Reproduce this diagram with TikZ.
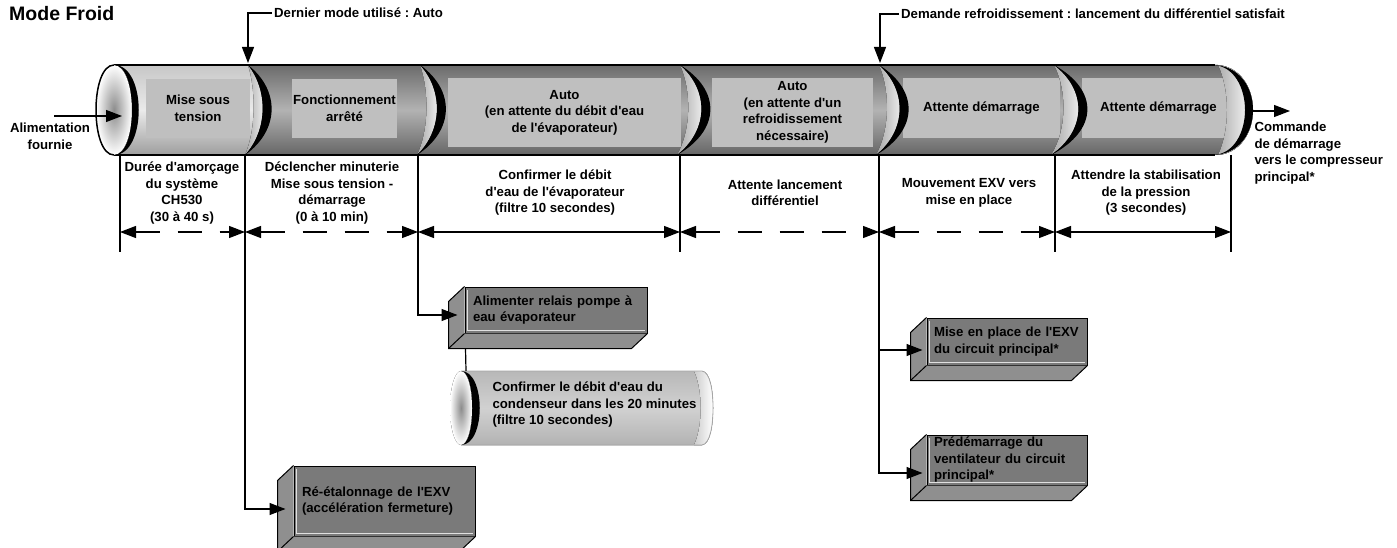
\documentclass[tikz,border=0pt]{standalone}
\usepackage{fontspec}
\setmainfont{Liberation Sans}[Ligatures=TeXOff]
\usetikzlibrary{arrows.meta, calc}
\frenchspacing

\begin{document}
\begin{tikzpicture}[
  x=1pt, y=-1pt,
  >={Triangle[length=16pt,width=12pt]},
  every node/.style={font=\fontsize{13.2}{16.5}\selectfont\bfseries},
  stage/.style={fill=black!25, inner sep=0pt, align=center},
  spanlabel/.style={align=center},
  taskbox/.style={draw, line width=1pt, fill=black!52, inner xsep=8pt, inner ysep=0pt, align=left},
  guide/.style={line width=1.2pt},
  feed/.style={->, line width=1.2pt},
  dimarrow/.style={<->, line width=1.2pt},
  broken/.style={dash pattern=on 24pt off 18pt},
  shine/.style={left color=black!35, right color=white}
]
\useasboundingbox (0,0) rectangle (1397,548);

% Title
\node[anchor=base west, inner sep=0pt, font=\fontsize{19.5}{22}\selectfont\bfseries] (title) at (9,20.5) {Mode Froid};

% Tube body
\fill[top color=black!58, bottom color=black!60, middle color=black!30]
  (114,65) -- (1215,65) .. controls (1240,65) and (1253,88) .. (1253,110)
  .. controls (1253,132) and (1240,155) .. (1215,155) -- (114,155) -- cycle;
\fill[top color=black!22, bottom color=black!38, middle color=black!8]
  (114,65) -- (248,65) .. controls (268,90) and (268,130) .. (245,155) -- (114,155) -- cycle;

% Phases inside the tube
\node[stage, minimum width=104pt, minimum height=59pt] (s1) at (198,108.5) {Mise sous\\tension};
\node[stage, minimum width=105pt, minimum height=59pt] (s2) at (344.5,108.5) {Fonctionnement\\arrêté};
\node[stage, minimum width=233pt, minimum height=69pt] (s3) at (564.5,112.5) {Auto\\(en attente du débit d'eau\\de l'évaporateur)};
\node[stage, minimum width=161pt, minimum height=69pt] (s4) at (792.5,112.5) {Auto\\(en attente d'un\\refroidissement\\nécessaire)};
\node[stage, minimum width=157pt, minimum height=60pt] (s5) at (981.5,108) {Attente démarrage};
\node[stage, minimum width=153pt, minimum height=60pt] (s6) at (1158.5,108) {Attente démarrage};

% Segment joints
\foreach \bx/\k in {248/20, 420/23, 680/29, 879/28, 1054/33} {
  \fill[shine] (\bx,65) .. controls (\bx+0.4*\k,90) and (\bx+0.4*\k,130) .. (\bx-3,155)
    .. controls (\bx+\k,130) and (\bx+\k,90) .. (\bx,65);
  \fill (\bx,65) .. controls (\bx+\k,90) and (\bx+\k,130) .. (\bx-3,155)
    .. controls (\bx+\k+12,130) and (\bx+\k+12,90) .. (\bx,65);
}

% Right end of the tube
\fill[shine] (1218,65) .. controls (1230,90) and (1230,130) .. (1218,155) -- (1215,155)
  .. controls (1240,155) and (1253,132) .. (1253,110) .. controls (1253,88) and (1240,65) .. (1215,65) -- cycle;
\fill (1212,65) .. controls (1240,65) and (1253,88) .. (1253,110)
  .. controls (1253,132) and (1240,155) .. (1212,155)
  .. controls (1234,155) and (1245,132) .. (1245,110)
  .. controls (1245,88) and (1234,65) .. (1212,65);
\draw[line width=2.2pt] (114,65) -- (1215,65) (114,155) -- (1215,155);

% Left face
\fill[inner color=black!45, outer color=white] (114,110) ellipse [x radius=18pt, y radius=45pt];
\draw[line width=1.5pt] (114,65) .. controls (90,65) and (90,155) .. (114,155);
\fill (114,65) .. controls (138,65) and (138,155) .. (114,155)
  .. controls (147,155) and (147,65) .. (114,65);

% Inputs and outputs
\node[align=center] (supply) at (50,136.5) {Alimentation\\fournie};
\coordinate (feedin) at (54,116);
\coordinate (face) at (122,116);
\draw[feed] (feedin) -- (face);

\coordinate (capout) at (1253,111);
\coordinate (cmd) at (1290,111);
\draw[feed] (capout) -- (cmd);
\node[anchor=west, align=left] (start) at (1251,153) {Commande\\de démarrage\\vers le compresseur\\principal*};

\node[anchor=west, inner sep=2pt] (lastmode) at (272,13) {Dernier mode utilisé : Auto};
\coordinate (m1) at (248,63);
\draw[feed] (lastmode.west) -| (m1);

\node[anchor=west, inner sep=2pt] (coolreq) at (899,14) {Demande refroidissement : lancement du différentiel satisfait};
\coordinate (m2) at (880,63);
\draw[feed] (coolreq.west) -| (m2);

% Durations
\foreach \i/\x in {0/120,1/245,2/418,3/680,4/879,5/1055,6/1231} {
  \coordinate (top\i) at (\x,155);
  \coordinate (dim\i) at (\x,232);
  \coordinate (end\i) at (\x,252);
}
\foreach \i in {0,3,5,6} \draw[guide] (top\i) -- (end\i);

\draw[dimarrow, broken] (dim0) -- (dim1);
\draw[dimarrow, broken] (dim1) -- (dim2);
\draw[dimarrow] (dim2) -- (dim3);
\draw[dimarrow, broken] (dim3) -- (dim4);
\draw[dimarrow, broken] (dim4) -- (dim5);
\draw[dimarrow] (dim5) -- (dim6);

\node[spanlabel] (w1) at (182,193) {Durée d'amorçage\\du système\\CH530\\(30 à 40 s)};
\node[spanlabel] (w2) at (332,193) {Déclencher minuterie\\Mise sous tension -\\démarrage\\(0 à 10 min)};
\node[spanlabel] (w3) at (555,193) {Confirmer le débit\\d'eau de l'évaporateur\\(filtre 10 secondes)};
\node[spanlabel] (w4) at (785,193) {Attente lancement\\différentiel};
\node[spanlabel] (w5) at (969,193) {Mouvement EXV vers\\mise en place};
\node[spanlabel] (w6) at (1146,193) {Attendre la stabilisation\\de la pression\\(3 secondes)};

% Actions
\node[taskbox, text width=166pt, minimum height=46pt] (pump) at (556,310) {Alimenter relais pompe à\\eau évaporateur};
\node[taskbox, text width=165pt, minimum height=70pt] (rexv) at (384.5,501) {Ré-étalonnage de l'EXV\\(accélération fermeture)};
\node[taskbox, inner xsep=7pt, text width=146pt, minimum height=47pt] (place) at (1007,341.5) {Mise en place de l'EXV\\du circuit principal*};
\node[taskbox, inner xsep=7pt, text width=146pt, minimum height=50pt] (fan) at (1007,460) {Prédémarrage du\\ventilateur du circuit\\principal*};

\foreach \n in {pump,rexv,place,fan} {
  \fill[black!44] (\n.north west) -- ++(-16,15) -- ($(\n.south west)+(-16,15)$)
    -- ($(\n.south east)+(-16,15)$) -- (\n.south east) -- (\n.south west) -- cycle;
  \draw[line width=1pt] (\n.north west) -- ++(-16,15) -- ($(\n.south west)+(-16,15)$)
    -- ($(\n.south east)+(-16,15)$) -- (\n.south east);
  \draw[line width=1pt] (\n.south west) -- ++(-16,15);
  \draw[black!12, line width=1.2pt] ([shift={(3,3)}]\n.north west)
    -- ([shift={(3,-3)}]\n.south west) -- ([shift={(-3,-3)}]\n.south east);
}

\draw[feed] (top1) |- ([shift={(-8,8)}]rexv.west);
\draw[feed] (top2) |- ([shift={(-7,5)}]pump.west);
\draw[feed] (top4) |- ([shift={(-4,8.5)}]place.west);
\draw[feed] (top4) |- ([shift={(-4,13)}]fan.west);

% Condenser check
\fill[top color=black!28, bottom color=black!30, middle color=black!18]
  (461,371) -- (702,371) .. controls (710,372) and (713,390) .. (713,408)
  .. controls (713,426) and (710,444) .. (702,445) -- (461,445) -- cycle;
\fill[left color=black!20, right color=white] (694,371) .. controls (703,390) and (703,426) .. (694,445)
  -- (702,445) .. controls (710,444) and (713,426) .. (713,408) .. controls (713,390) and (710,372) .. (702,371) -- cycle;
\draw[black!35, line width=0.8pt] (461,371) -- (702,371) .. controls (710,372) and (713,390) .. (713,408)
  .. controls (713,426) and (710,444) .. (702,445) -- (461,445);
\fill[inner color=black!45, outer color=white] (461,408) ellipse [x radius=11pt, y radius=37pt];
\fill (461,371) .. controls (476,371) and (476,445) .. (461,445)
  .. controls (486,445) and (486,371) .. (461,371);
\node[anchor=west, align=left] (cond) at (489,405) {Confirmer le débit d'eau du\\condenseur dans les 20 minutes\\(filtre 10 secondes)};

\coordinate (pumpfoot) at ($(pump.south west)+(1,15)$);
\coordinate (condtop) at (466,371);
\draw[guide] (pumpfoot) -- (condtop);

\end{tikzpicture}
\end{document}
